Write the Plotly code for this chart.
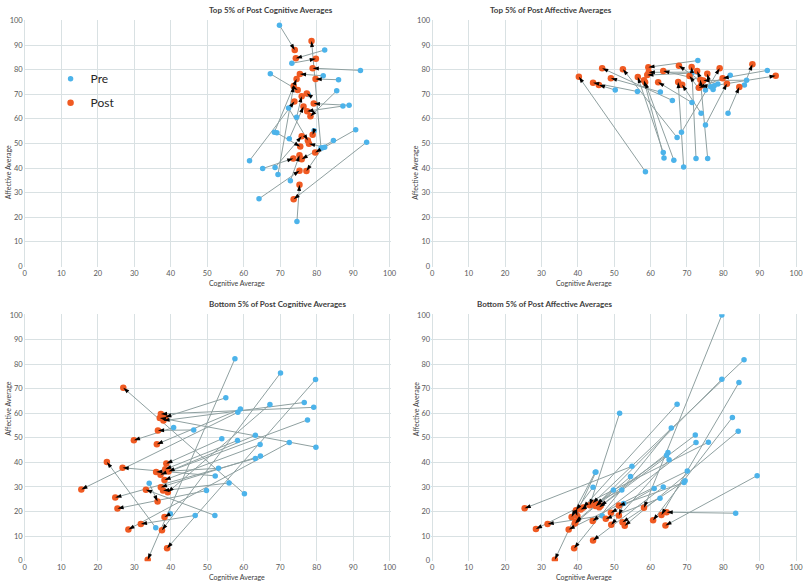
import numpy as np
import plotly.graph_objects as go

# Top 5% of post cognitive averages (pre -> post)
tc_pre_cog = [81.2, 69.8, 82.2, 73.2, 92.0, 81.8, 86.0, 68.4, 69.4, 67.3, 77.7, 74.5, 61.6, 88.9, 72.5,
              87.2, 85.5, 79.3, 68.6, 72.3, 82.2, 69.1, 90.7, 72.8, 65.2, 84.6, 64.2, 81.6, 74.6, 93.7]
tc_pre_aff = [48.1, 98.1, 88.0, 82.6, 79.7, 77.5, 75.9, 54.5, 37.4, 78.3, 69.9, 60.6, 43.0, 65.5, 51.9,
              65.2, 71.4, 55.2, 40.2, 64.4, 48.4, 54.3, 55.6, 34.8, 39.8, 51.2, 27.5, 48.2, 18.2, 50.5]
tc_post_cog = [78.6, 74.0, 74.3, 79.8, 78.9, 75.4, 79.7, 74.5, 73.7, 74.8, 77.3, 75.9, 73.9, 79.2, 76.4,
               77.4, 78.3, 78.9, 75.9, 77.6, 77.9, 75.5, 79.6, 75.3, 73.6, 75.9, 75.3, 77.2, 75.3, 73.7]
tc_post_aff = [91.7, 88.0, 84.6, 84.4, 80.6, 78.2, 76.2, 76.2, 73.3, 71.7, 70.3, 69.2, 67.0, 66.2, 65.0,
               63.1, 61.0, 53.5, 52.9, 51.2, 49.9, 48.7, 46.3, 45.2, 43.9, 43.6, 38.9, 38.8, 33.2, 27.3]

# Top 5% of post affective averages
ta_pre_cog = [58.6, 56.4, 50.3, 66.0, 62.7, 67.3, 63.5, 63.7, 66.4, 71.4, 73.0, 72.7, 71.4, 78.5, 69.1, 77.2,
              73.9, 73.1, 72.5, 75.1, 81.9, 75.7, 77.0, 86.4, 76.5, 68.5, 92.1, 75.1, 81.3, 85.8, 77.5]
ta_pre_aff = [38.5, 71.1, 71.7, 67.5, 70.9, 52.4, 46.3, 44.1, 43.2, 78.6, 83.7, 79.0, 66.6, 74.2, 40.4, 71.9,
              62.3, 72.6, 43.9, 71.7, 77.7, 43.9, 72.9, 75.7, 73.0, 54.5, 79.7, 57.5, 62.3, 73.8, 73.5]
ta_post_cog = [40.3, 44.2, 45.8, 46.7, 49.1, 52.4, 56.5, 58.2, 58.5, 59.1, 59.4, 59.5, 62.1, 63.5, 67.6, 67.8,
               68.7, 70.7, 71.3, 72.8, 73.3, 73.7, 73.9, 74.5, 75.6, 79.0, 79.8, 81.0, 84.4, 88.0, 94.4]
ta_post_aff = [77.1, 74.7, 73.8, 80.6, 76.5, 80.2, 77.0, 75.7, 74.9, 77.8, 81.0, 78.9, 74.9, 79.5, 75.0, 81.6,
               73.9, 77.4, 81.1, 79.4, 72.6, 75.9, 73.6, 75.6, 78.3, 80.6, 76.5, 74.3, 72.9, 82.2, 77.5]

# Bottom 5% of post cognitive averages
bc_pre_cog = [60.2, 79.2, 79.8, 76.6, 55.1, 46.3, 40.8, 59.1, 35.9, 52.2, 54.0, 58.3, 63.2, 53.1, 77.5,
              64.5, 58.4, 64.6, 56.0, 63.2, 52.1, 67.2, 34.1, 49.8, 39.9, 72.5, 46.7, 70.1, 79.7, 57.6]
bc_pre_aff = [27.2, 62.4, 46.2, 64.4, 66.3, 53.2, 54.2, 61.7, 13.4, 34.5, 49.6, 48.9, 51.0, 37.6, 57.3,
              47.3, 60.4, 42.6, 31.6, 41.6, 18.4, 63.6, 31.5, 28.5, 19.1, 48.1, 18.4, 76.4, 73.7, 82.2]
bc_post_cog = [27.0, 37.3, 37.0, 38.0, 38.5, 36.5, 29.9, 36.2, 22.5, 26.8, 38.8, 38.5, 39.4, 36.0, 37.2,
               38.3, 15.5, 37.3, 37.9, 24.8, 33.2, 39.2, 36.4, 25.4, 38.3, 28.4, 31.8, 37.6, 39.0, 33.7]
bc_post_aff = [70.4, 59.7, 58.1, 57.0, 58.4, 53.0, 49.0, 47.4, 40.2, 37.8, 39.5, 37.2, 36.3, 36.1, 35.0,
               32.8, 29.0, 29.9, 28.5, 25.7, 28.9, 27.8, 24.1, 21.2, 17.8, 12.7, 14.9, 12.4, 5.0, 0.4]

# Bottom 5% of post affective averages
ba_pre_cog = [79.6, 85.7, 79.6, 84.3, 67.3, 51.5, 65.7, 82.5, 84.1, 72.3, 72.5, 75.9, 54.9, 64.8, 64.4, 65.1, 45.0,
              44.2, 54.5, 52.1, 70.1, 69.2, 89.3, 61.0, 62.6, 52.6, 39.6, 83.4, 46.7, 69.5, 63.5, 49.8, 44.8]
ba_pre_aff = [100.0, 81.8, 73.8, 72.5, 63.7, 60.0, 54.0, 58.3, 52.7, 51.1, 48.1, 48.2, 38.4, 44.0, 42.9, 41.1, 36.1,
              29.9, 34.2, 28.8, 36.5, 31.8, 34.6, 29.4, 25.4, 23.3, 19.4, 19.3, 18.3, 32.5, 30.0, 28.8, 36.0]
ba_post_cog = [58.2, 44.1, 45.3, 63.0, 41.5, 43.3, 39.0, 60.7, 52.9, 45.9, 44.1, 28.5, 25.4, 46.3, 44.9, 49.2, 33.7,
               39.5, 39.2, 40.8, 37.5, 51.3, 64.1, 49.1, 47.7, 51.3, 39.9, 64.4, 31.7, 52.3, 44.2, 39.4, 38.3]
ba_post_aff = [21.5, 23.4, 22.9, 18.6, 21.6, 22.5, 5.0, 16.4, 14.2, 21.7, 16.1, 12.9, 21.3, 22.3, 22.2, 14.6, 0.4,
               20.5, 15.1, 20.8, 12.7, 22.4, 14.3, 19.5, 17.0, 18.4, 18.2, 19.7, 14.9, 15.6, 8.2, 15.8, 17.8]

titles = ["Top 5% of Post Cognitive Averages", "Top 5% of Post Affective Averages",
          "Bottom 5% of Post Cognitive Averages", "Bottom 5% of Post Affective Averages"]

panels = [
    (tc_pre_cog, tc_pre_aff, tc_post_cog, tc_post_aff),
    (ta_pre_cog, ta_pre_aff, ta_post_cog, ta_post_aff),
    (bc_pre_cog, bc_pre_aff, bc_post_cog, bc_post_aff),
    (ba_pre_cog, ba_pre_aff, ba_post_cog, ba_post_aff),
]

W, H = 810, 587
LO, HI = -0.3, 100.3   # tiny padding so the 0 and 100 grid lines are drawn


def dom(p0, p100, total, flip=False):
    # pixel positions of 0 and 100 -> domain fractions of the padded range
    k = (p100 - p0) / 100.0
    a, b = p0 + k * LO, p0 + k * HI
    if flip:
        return [1 - a / total, 1 - b / total]
    return [a / total, b / total]


xdoms = [dom(24, 392, W), dom(435, 802, W), dom(24, 392, W), dom(435, 802, W)]
ydoms = [dom(266, 16.7, H, True), dom(266, 16.7, H, True),
         dom(564.3, 315.3, H, True), dom(564.3, 315.3, H, True)]
title_y = [6, 6, 304, 304]
xtitle_y = [283, 283, 581, 581]
ytitle_x = [7, 418, 7, 418]

BLUE = "#4cb3ea"
ORANGE = "#f05a22"
LINE = "#8fa0a0"
FONT = "Lato"

fig = go.Figure()
annotations = []

for i, (px, py, qx, qy) in enumerate(panels):
    xa = "x" if i == 0 else "x%d" % (i + 1)
    ya = "y" if i == 0 else "y%d" % (i + 1)
    px, py, qx, qy = map(np.array, (px, py, qx, qy))

    lx, ly = [], []
    for a, b, c, d in zip(px, py, qx, qy):
        lx += [a, c, None]
        ly += [b, d, None]
    fig.add_trace(go.Scatter(x=lx, y=ly, mode="lines", line=dict(color=LINE, width=1),
                             xaxis=xa, yaxis=ya, showlegend=False, hoverinfo="skip"))
    fig.add_trace(go.Scatter(x=px, y=py, mode="markers", name="Pre",
                             marker=dict(color=BLUE, size=5.5), xaxis=xa, yaxis=ya,
                             showlegend=(i == 0), legendgroup="pre"))
    fig.add_trace(go.Scatter(x=qx, y=qy, mode="markers", name="Post",
                             marker=dict(color=ORANGE, size=6.5), xaxis=xa, yaxis=ya,
                             showlegend=(i == 0), legendgroup="post"))

    # arrow heads pointing at the post point, angle in screen space
    sx = (xdoms[i][1] - xdoms[i][0]) * W / (HI - LO)
    sy = (ydoms[i][1] - ydoms[i][0]) * H / (HI - LO)
    ang = np.degrees(np.arctan2((qx - px) * sx, (qy - py) * sy))
    fig.add_trace(go.Scatter(x=qx, y=qy, mode="markers",
                             marker=dict(symbol="arrow", size=6.5, color="black", angle=ang, standoff=0),
                             xaxis=xa, yaxis=ya, showlegend=False, hoverinfo="skip"))

    annotations.append(dict(text="<b>%s</b>" % titles[i], xref="paper", yref="paper",
                            x=sum(xdoms[i]) / 2, y=1 - title_y[i] / H, yanchor="middle",
                            showarrow=False, font=dict(size=8, color="#404040")))
    annotations.append(dict(text="Cognitive Average", xref="paper", yref="paper",
                            x=sum(xdoms[i]) / 2, y=1 - xtitle_y[i] / H, yanchor="middle",
                            showarrow=False, font=dict(size=7, color="#404040")))
    annotations.append(dict(text="Affective Average", xref="paper", yref="paper", textangle=-90,
                            x=ytitle_x[i] / W, y=sum(ydoms[i]) / 2, xanchor="center",
                            showarrow=False, font=dict(size=7, color="#404040")))

common_axis = dict(range=[LO, HI], tickvals=list(range(0, 101, 10)), showgrid=True,
                   gridcolor="#d9e1e3", gridwidth=1, zeroline=False, showline=False, ticks="",
                   tickfont=dict(size=7.5, color="#595959"), fixedrange=True)

layout = dict(width=W, height=H, margin=dict(l=0, r=0, t=0, b=0),
              paper_bgcolor="white", plot_bgcolor="white",
              font=dict(family=FONT, color="#404040"),
              annotations=annotations,
              legend=dict(x=50 / W, y=1 - 61 / H, xanchor="left", yanchor="top",
                          bgcolor="rgba(0,0,0,0)", font=dict(size=12, color="#262626"),
                          itemwidth=30, tracegroupgap=5))

for i in range(4):
    xk = "xaxis" if i == 0 else "xaxis%d" % (i + 1)
    yk = "yaxis" if i == 0 else "yaxis%d" % (i + 1)
    ya = "y" if i == 0 else "y%d" % (i + 1)
    xa = "x" if i == 0 else "x%d" % (i + 1)
    layout[xk] = dict(common_axis, domain=xdoms[i], anchor=ya)
    layout[yk] = dict(common_axis, domain=ydoms[i], anchor=xa)

fig.update_layout(**layout)
fig.write_html("out.html", config={"displayModeBar": False},
               post_script="document.body.style.margin='0';")
